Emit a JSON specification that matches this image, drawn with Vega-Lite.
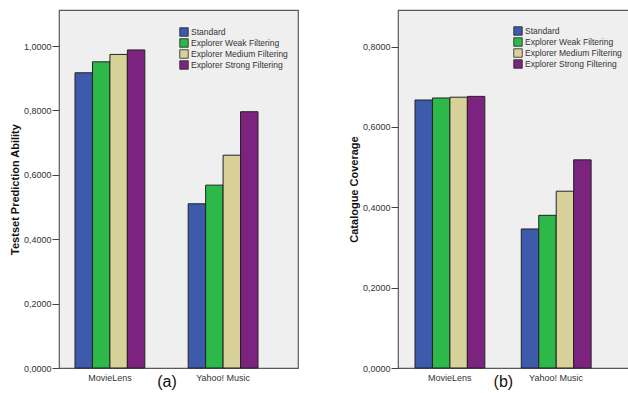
{
  "$schema": "https://vega.github.io/schema/vega-lite/v6.json",
  "padding": {"left": 8, "top": 9, "right": 0, "bottom": 0},
  "background": "white",
  "config": {
    "font": "Liberation Sans",
    "view": {"fill": "#efefef", "stroke": "#5a5a5a", "strokeWidth": 1.2},
    "axis": {"labelColor": "#333", "labelFont": "Liberation Sans", "titleFont": "Liberation Sans", "grid": false, "domain": false},
    "legend": {"labelFontSize": 8.5, "labelColor": "#333", "symbolSize": 72, "symbolType": "square", "symbolStrokeColor": "#222", "symbolStrokeWidth": 0.8, "rowPadding": -1, "labelOffset": 2, "padding": 0}
  },
  "data": {"values": [
    {"panel": "a", "dataset": "MovieLens", "series": "Standard", "value": 0.917},
    {"panel": "a", "dataset": "MovieLens", "series": "Explorer Weak Filtering", "value": 0.951},
    {"panel": "a", "dataset": "MovieLens", "series": "Explorer Medium Filtering", "value": 0.974},
    {"panel": "a", "dataset": "MovieLens", "series": "Explorer Strong Filtering", "value": 0.988},
    {"panel": "a", "dataset": "Yahoo! Music", "series": "Standard", "value": 0.510},
    {"panel": "a", "dataset": "Yahoo! Music", "series": "Explorer Weak Filtering", "value": 0.568},
    {"panel": "a", "dataset": "Yahoo! Music", "series": "Explorer Medium Filtering", "value": 0.661},
    {"panel": "a", "dataset": "Yahoo! Music", "series": "Explorer Strong Filtering", "value": 0.796},
    {"panel": "b", "dataset": "MovieLens", "series": "Standard", "value": 0.667},
    {"panel": "b", "dataset": "MovieLens", "series": "Explorer Weak Filtering", "value": 0.672},
    {"panel": "b", "dataset": "MovieLens", "series": "Explorer Medium Filtering", "value": 0.674},
    {"panel": "b", "dataset": "MovieLens", "series": "Explorer Strong Filtering", "value": 0.676},
    {"panel": "b", "dataset": "Yahoo! Music", "series": "Standard", "value": 0.346},
    {"panel": "b", "dataset": "Yahoo! Music", "series": "Explorer Weak Filtering", "value": 0.380},
    {"panel": "b", "dataset": "Yahoo! Music", "series": "Explorer Medium Filtering", "value": 0.440},
    {"panel": "b", "dataset": "Yahoo! Music", "series": "Explorer Strong Filtering", "value": 0.518}
  ]},
  "spacing": 48,
  "resolve": {"scale": {"y": "independent", "x": "independent", "color": "independent"}, "legend": {"color": "independent"}},
  "hconcat": [
    {
      "width": 239,
      "height": 358,
      "transform": [{"filter": "datum.panel === 'a'"}],
      "mark": {"type": "bar", "stroke": "#222", "strokeWidth": 1},
      "encoding": {
        "x": {"field": "dataset", "type": "nominal", "sort": ["MovieLens", "Yahoo! Music"],
          "scale": {"range": [16, 199], "paddingInner": 0.383, "paddingOuter": 0},
          "axis": {"title": "(a)", "titleFontSize": 16, "titleFontWeight": "normal", "titleColor": "#111", "titleY": 18, "titleBaseline": "alphabetic", "labelAngle": 0, "labelFontSize": 9, "labelPadding": 5, "ticks": false}},
        "xOffset": {"field": "series", "type": "nominal", "sort": ["Standard", "Explorer Weak Filtering", "Explorer Medium Filtering", "Explorer Strong Filtering"], "scale": {"paddingInner": 0, "paddingOuter": 0}},
        "y": {"field": "value", "type": "quantitative",
          "scale": {"domain": [0, 1.112], "nice": false},
          "axis": {"title": "Testset Prediction Ability", "titleFontSize": 11, "titleFontWeight": "bold", "titleColor": "#111", "titlePadding": 3, "values": [0, 0.2, 0.4, 0.6, 0.8, 1.0], "labelExpr": "replace(format(datum.value, '.4f'), '.', ',')", "labelFontSize": 9, "tickSize": 7, "tickColor": "#444", "labelPadding": 1}},
        "color": {"field": "series", "type": "nominal", "sort": ["Standard", "Explorer Weak Filtering", "Explorer Medium Filtering", "Explorer Strong Filtering"],
          "scale": {"range": ["#3d5aab", "#2db84a", "#d8d19a", "#7c2380"]},
          "legend": {"title": null, "orient": "none", "legendX": 120, "legendY": 17}}
      }
    },
    {
      "width": 240,
      "height": 358,
      "transform": [{"filter": "datum.panel === 'b'"}],
      "mark": {"type": "bar", "stroke": "#222", "strokeWidth": 1},
      "encoding": {
        "x": {"field": "dataset", "type": "nominal", "sort": ["MovieLens", "Yahoo! Music"],
          "scale": {"range": [17, 192.7], "paddingInner": 0.347, "paddingOuter": 0},
          "axis": {"title": "(b)", "titleFontSize": 16, "titleFontWeight": "normal", "titleColor": "#111", "titleY": 18, "titleBaseline": "alphabetic", "labelAngle": 0, "labelFontSize": 9, "labelPadding": 5, "ticks": false}},
        "xOffset": {"field": "series", "type": "nominal", "sort": ["Standard", "Explorer Weak Filtering", "Explorer Medium Filtering", "Explorer Strong Filtering"], "scale": {"paddingInner": 0, "paddingOuter": 0}},
        "y": {"field": "value", "type": "quantitative",
          "scale": {"domain": [0, 0.891], "nice": false},
          "axis": {"title": "Catalogue Coverage", "titleFontSize": 11, "titleFontWeight": "bold", "titleColor": "#111", "titlePadding": 3, "values": [0, 0.2, 0.4, 0.6, 0.8], "labelExpr": "replace(format(datum.value, '.4f'), '.', ',')", "labelFontSize": 9, "tickSize": 7, "tickColor": "#444", "labelPadding": 1}},
        "color": {"field": "series", "type": "nominal", "sort": ["Standard", "Explorer Weak Filtering", "Explorer Medium Filtering", "Explorer Strong Filtering"],
          "scale": {"range": ["#3d5aab", "#2db84a", "#d8d19a", "#7c2380"]},
          "legend": {"title": null, "orient": "none", "legendX": 115, "legendY": 16}}
      }
    }
  ]
}
